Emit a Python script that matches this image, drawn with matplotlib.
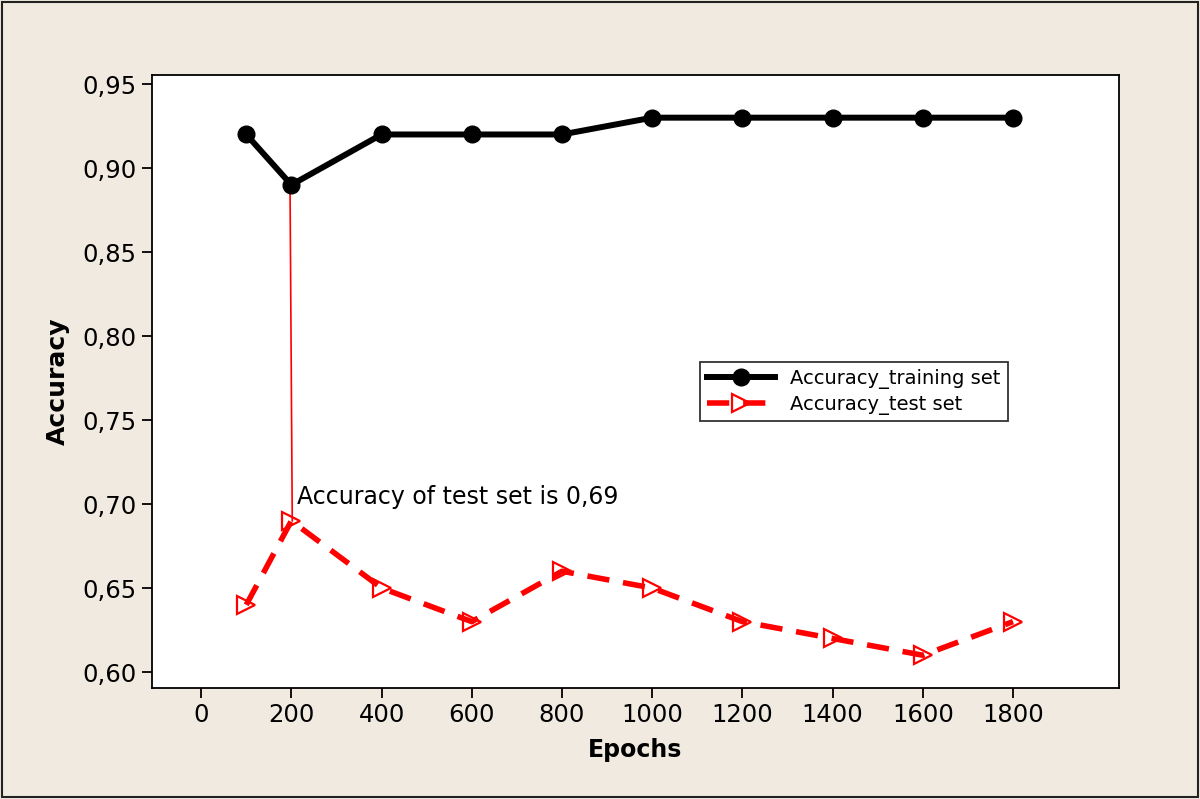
import numpy as np, matplotlib
matplotlib.use("Agg"); import matplotlib.pyplot as plt
from matplotlib.ticker import FuncFormatter

plt.rcParams.update({"font.family":"DejaVu Sans"})

epochs=[100,200,400,600,800,1000,1200,1400,1600,1800]
acc_train=[0.92,0.89,0.92,0.92,0.92,0.93,0.93,0.93,0.93,0.93]
acc_test=[0.64,0.69,0.65,0.63,0.66,0.65,0.63,0.62,0.61,0.63]
xticks=[0,200,400,600,800,1000,1200,1400,1600,1800]
yticks=[0.60,0.65,0.70,0.75,0.80,0.85,0.90,0.95]

bg="#F0EAE1"
fig=plt.figure(figsize=(12,7.99),dpi=100,facecolor=bg)
fig.patches.append(plt.Rectangle((0.002,0.002),0.996,0.996,transform=fig.transFigure,fill=False,edgecolor="#222222",lw=1.5))
ax=fig.add_axes([152/1200,1-688/799,(1119-152)/1200,(688-75)/799])
ax.set_facecolor("white")

ax.plot(epochs,acc_train,"-",color="black",lw=4.3,marker="o",ms=12,label="Accuracy_training set",zorder=3)
ax.plot(epochs,acc_test,"--",color="red",lw=4,dashes=(4,2.5),marker=">",ms=13,mfc="none",mec="red",mew=1.6,label="Accuracy_test set",zorder=3)

# annotation: thin leader from training point down to test point
ax.plot([epochs[1]-3,epochs[1]+2],[acc_train[1],acc_test[1]],color="red",lw=1.2,zorder=2)
ax.text(epochs[1]+13,acc_test[1]+0.007,"Accuracy of test set is 0,69",fontsize=17,ha="left",va="bottom")

ax.set_xlim(-109,2035); ax.set_ylim(0.5905,0.9554)
ax.set_xticks(xticks); ax.set_yticks(yticks)
ax.yaxis.set_major_formatter(FuncFormatter(lambda v,p:("%.2f"%v).replace(".",",")))
ax.tick_params(direction="out",length=7,width=1.3,labelsize=17.5,pad=4)
for s in ax.spines.values(): s.set_linewidth(1.3)
ax.set_xlabel("Epochs",fontsize=17,fontweight="bold",labelpad=8)
ax.set_ylabel("Accuracy",fontsize=18,fontweight="bold",labelpad=9)

leg=ax.legend(loc="upper left",bbox_to_anchor=((700-152)/967,(688-362)/613),fontsize=14,frameon=True,fancybox=False,
              edgecolor="black",handlelength=3.5,borderpad=0.35,labelspacing=0.3,borderaxespad=0)
leg.get_frame().set_linewidth(1.3)

fig.savefig("out.png",dpi=100,facecolor=bg)
